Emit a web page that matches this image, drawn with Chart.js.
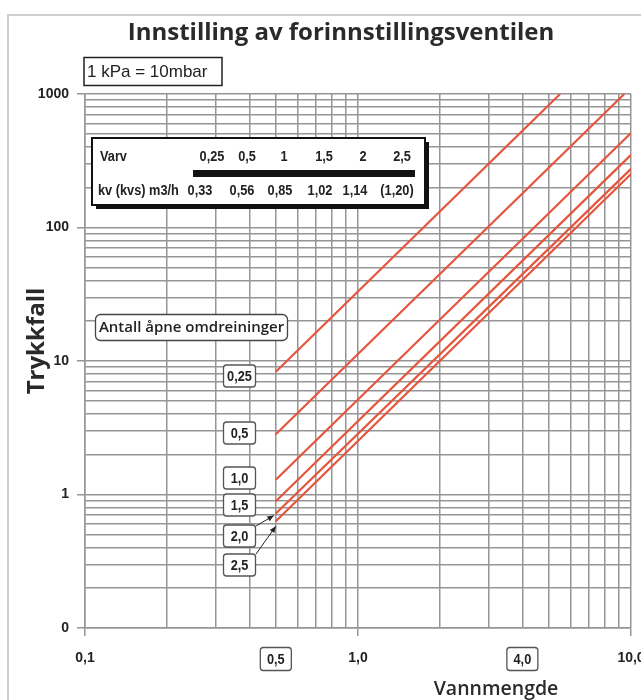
<!DOCTYPE html>
<html>
<head>
<meta charset="utf-8">
<script src="https://cdn.jsdelivr.net/npm/chart.js@4.4.1/dist/chart.umd.min.js"></script>
<style>
html, body { margin: 0; padding: 0; background: #fff; overflow: hidden; }
#wrap { position: relative; width: 641px; height: 700px; }
#frame { position: absolute; left: 7px; top: 14px; width: 700px; height: 700px; border: 2px solid #cfcfcf; }
#chart { position: absolute; left: 0; top: 0; }
</style>
</head>
<body>
<div id="wrap">
  <div id="frame"></div>
  <canvas id="chart" width="641" height="700"></canvas>
</div>
<script>
// Forinnstilling (antall åpne omdreininger) og linjenes endepunkter lest av diagrammet
const settings  = ['0,25', '0,5', '1,0', '1,5', '2,0', '2,5'];
const flowStart = [0.5, 0.5, 0.5, 0.5, 0.5, 0.5];
const dpStart   = [8.3, 2.83, 1.29, 0.89, 0.72, 0.63];
const flowEnd   = [5.5, 9.45, 10, 10, 10, 10];
const dpEnd     = [1000, 1000, 510, 350, 275, 252];

// Tabell: varv og kv-verdier
const varv     = ['0,25', '0,5', '1', '1,5', '2', '2,5'];
const kvValues = ['0,33', '0,56', '0,85', '1,02', '1,14', '(1,20)'];

// Rutenett og aksetekster
const xGrid = [0.1, 0.2, 0.3, 0.4, 0.5, 0.6, 0.7, 0.8, 0.9, 1, 2, 3, 4, 5, 6, 7, 8, 9, 10];
const yGrid = [0.1, 0.2, 0.3, 0.4, 0.5, 0.6, 0.7, 0.8, 0.9, 1, 2, 3, 4, 5, 6, 7, 8, 9,
               10, 20, 30, 40, 50, 60, 70, 80, 90, 100, 200, 300, 400, 500, 600, 700, 800, 900, 1000];
const xTickValues = [0.1, 1, 10];
const xTickLabels = ['0,1', '1,0', '10,0'];
const xBoxValues  = [0.5, 4];
const xBoxLabels  = ['0,5', '4,0'];
const yTickValues = [0.1, 1, 10, 100, 1000];
const yTickLabels = ['0', '1', '10', '100', '1000'];

const GRID = '#959595';
const RED = '#e5553c';
const tickFont = { family: '"Liberation Sans", Arial', weight: 'bold', size: 14 };
const smallBold = 'bold 14.5px "Liberation Sans", Arial';

const datasets = settings.map((s, i) => ({
  label: s,
  data: [{ x: flowStart[i], y: dpStart[i] }, { x: flowEnd[i], y: dpEnd[i] }],
  showLine: true,
  borderColor: RED,
  borderWidth: 2.2,
  pointRadius: 0,
  fill: false
}));

function box(c, x, y, w, h, r) {
  c.beginPath();
  c.roundRect(x, y, w, h, r);
  c.fillStyle = '#fff';
  c.fill();
  c.stroke();
}

// smal tekst (som Helvetica Condensed i originalen)
function narrow(c, text, x, y) {
  c.save();
  c.translate(x, y);
  c.scale(0.88, 1);
  c.fillText(text, 0, 0);
  c.restore();
}

function arrow(c, x1, y1, x2, y2) {
  c.beginPath();
  c.moveTo(x1, y1);
  c.lineTo(x2, y2);
  c.stroke();
  const a = Math.atan2(y2 - y1, x2 - x1);
  c.beginPath();
  c.moveTo(x2, y2);
  c.lineTo(x2 - 7 * Math.cos(a - 0.4), y2 - 7 * Math.sin(a - 0.4));
  c.lineTo(x2 - 7 * Math.cos(a + 0.4), y2 - 7 * Math.sin(a + 0.4));
  c.closePath();
  c.fill();
}

const overlay = {
  id: 'overlay',
  afterDraw(chart) {
    const c = chart.ctx;
    const xs = chart.scales.x, ys = chart.scales.y;
    c.save();
    c.textBaseline = 'middle';

    // tittel
    c.fillStyle = '#2a2a2a';
    c.textAlign = 'center';
    c.font = '700 24px "Open Sans"';
    c.fillText('Innstilling av forinnstillingsventilen', 341, 33);

    // 1 kPa = 10mbar
    c.strokeStyle = '#222';
    c.lineWidth = 1.5;
    c.strokeRect(84, 57.5, 138, 28);
    c.textAlign = 'left';
    c.font = '17px "Liberation Sans", Arial';
    c.fillStyle = '#222';
    c.fillText('1 kPa = 10mbar', 87, 72);

    // tabell med skygge
    c.fillStyle = '#111';
    c.fillRect(96, 142, 333, 67);
    c.fillStyle = '#fff';
    c.lineWidth = 2;
    c.strokeStyle = '#111';
    c.fillRect(92, 138, 333, 67);
    c.strokeRect(92, 138, 333, 67);
    c.fillStyle = '#222';
    c.font = smallBold;
    c.textAlign = 'left';
    narrow(c, 'Varv', 100, 157);
    narrow(c, 'kv (kvs) m3/h', 98, 191);
    c.textAlign = 'center';
    const varvX = [212, 247, 284, 324, 363, 402];
    const kvX = [200, 242, 280, 320, 355, 397];
    varv.forEach((v, i) => narrow(c, v, varvX[i], 157));
    kvValues.forEach((v, i) => narrow(c, v, kvX[i], 191));
    c.fillStyle = '#111';
    c.fillRect(193, 170, 222, 7);

    // Antall åpne omdreininger
    c.strokeStyle = '#444';
    c.lineWidth = 1.3;
    box(c, 95.5, 314.5, 192, 26, 5);
    c.fillStyle = '#222';
    c.textAlign = 'center';
    c.font = '600 15px "Open Sans"';
    c.fillText('Antall åpne omdreininger', 191.5, 327.5);

    // etiketter for forinnstilling
    const labelY = [376, 433, 478, 505, 536, 565];
    c.font = smallBold;
    settings.forEach((s, i) => {
      c.strokeStyle = '#555';
      box(c, 223.5, labelY[i] - 11, 32, 22, 3);
      c.fillStyle = '#222';
      narrow(c, s, 239.5, labelY[i] + 1);
    });

    // piler til 2,0 og 2,5
    c.strokeStyle = '#222';
    c.fillStyle = '#222';
    c.lineWidth = 1;
    const px = xs.getPixelForValue(flowStart[4]);
    arrow(c, 256, 526, px - 2, ys.getPixelForValue(dpStart[4]) + 2);
    arrow(c, 256, 554, px, ys.getPixelForValue(dpStart[5]) + 5);

    // bokser under x-aksen
    c.font = smallBold;
    xBoxValues.forEach((v, i) => {
      const x = xs.getPixelForValue(v);
      c.strokeStyle = '#555';
      c.lineWidth = 1.3;
      box(c, x - 15.5, 647.5, 31, 23, 3);
      c.fillStyle = '#222';
      narrow(c, xBoxLabels[i], x, 659.5);
    });

    // aksetitler
    c.font = '600 19.5px "Open Sans"';
    c.fillStyle = '#2a2a2a';
    c.fillText('Vannmengde', 496, 689);
    c.translate(37, 341);
    c.rotate(-Math.PI / 2);
    c.font = 'bold 24px "Open Sans"';
    c.fillText('Trykkfall', 0, 0);
    c.restore();
  }
};

new Chart(document.getElementById('chart'), {
  type: 'scatter',
  data: { datasets },
  options: {
    responsive: false,
    animation: false,
    layout: { padding: { top: 94, left: 0, right: 10, bottom: 0 } },
    plugins: { legend: { display: false }, tooltip: { enabled: false } },
    scales: {
      x: {
        type: 'logarithmic',
        min: 0.1,
        max: 10,
        afterBuildTicks: s => { s.ticks = xGrid.map(v => ({ value: v })); },
        afterFit: s => { s.height = 72; s.paddingLeft = 0; s.paddingRight = 0; },
        border: { color: GRID, width: 1.5 },
        grid: {
          color: GRID,
          lineWidth: 1.5,
          tickLength: 8,
          tickColor: ctx => (ctx.tick && xTickValues.includes(ctx.tick.value)) ? GRID : 'rgba(0,0,0,0)'
        },
        ticks: {
          autoSkip: false,
          maxRotation: 0,
          padding: 14,
          color: '#222',
          font: tickFont,
          callback: v => { const i = xTickValues.indexOf(v); return i >= 0 ? xTickLabels[i] : ''; }
        }
      },
      y: {
        type: 'logarithmic',
        min: 0.1,
        max: 1000,
        afterBuildTicks: s => { s.ticks = yGrid.map(v => ({ value: v })); },
        afterFit: s => { s.width = 85; s.paddingTop = 0; s.paddingBottom = 0; },
        border: { color: GRID, width: 1.5 },
        grid: {
          color: GRID,
          lineWidth: 1.5,
          tickLength: 8,
          tickColor: ctx => (ctx.tick && yTickValues.includes(ctx.tick.value)) ? GRID : 'rgba(0,0,0,0)'
        },
        ticks: {
          autoSkip: false,
          padding: 8,
          color: '#222',
          font: tickFont,
          callback: v => { const i = yTickValues.indexOf(v); return i >= 0 ? yTickLabels[i] : ''; }
        }
      }
    }
  },
  plugins: [overlay]
});
</script>
</body>
</html>
